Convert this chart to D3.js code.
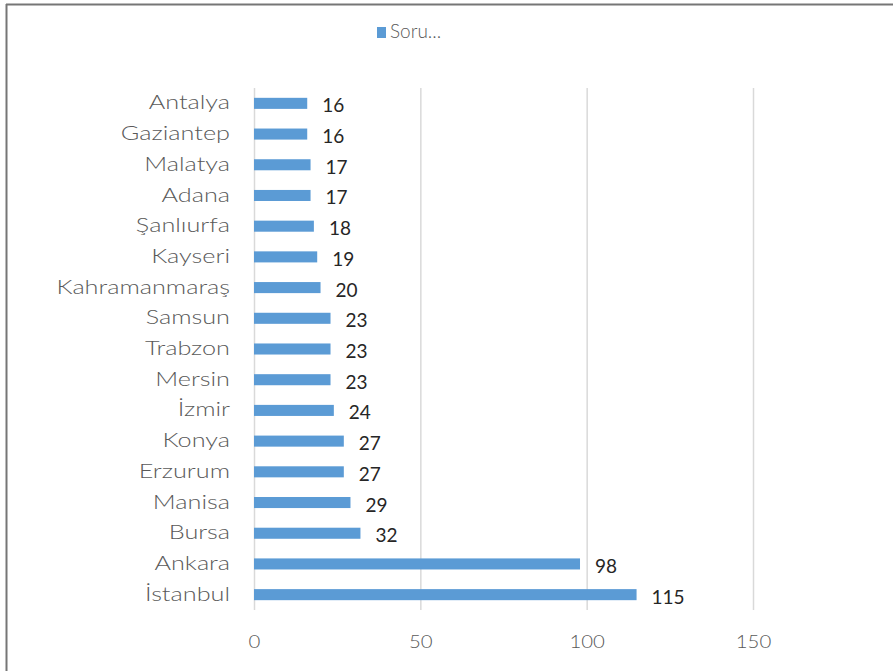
<!DOCTYPE html>
<html>
<head>
<meta charset="utf-8">
<script src="https://cdn.jsdelivr.net/npm/d3@7"></script>
<style>
  body { margin: 0; background: #fff; }
  svg { display: block; font-family: Lato, "Open Sans", sans-serif; }
</style>
</head>
<body>
<svg></svg>
<script>
// city names, top to bottom
const cities = ["Antalya", "Gaziantep", "Malatya", "Adana", "Şanlıurfa", "Kayseri",
    "Kahramanmaraş", "Samsun", "Trabzon", "Mersin", "İzmir", "Konya", "Erzurum",
    "Manisa", "Bursa", "Ankara", "İstanbul"];
const counts = [16, 16, 17, 17, 18, 19, 20, 23, 23, 23, 24, 27, 27, 29, 32, 98, 115];
const xTicks = [0, 50, 100, 150];
const seriesName = "Soru...";

const width = 893;
const height = 671;
const marginTop = 88;
const marginLeft = 254;
const marginBottom = 61;
const barColor = "#5b9bd5";
const stretch = 1.33; // the source text is drawn a bit wide

const svg = d3.select("svg").attr("width", width).attr("height", height);

// frame (top and left edge only)
svg.append("line").attr("x1", 6).attr("x2", width).attr("y1", 4.5).attr("y2", 4.5)
    .attr("stroke", "#767676").attr("stroke-width", 2);
svg.append("line").attr("x1", 6.5).attr("x2", 6.5).attr("y1", 4).attr("y2", height)
    .attr("stroke", "#767676").attr("stroke-width", 2);

const x = d3.scaleLinear()
    .domain([0, 150])
    .range([marginLeft, 753]);

const y = d3.scaleBand()
    .domain(cities)
    .range([marginTop, height - marginBottom])
    .paddingInner(0.64)
    .paddingOuter(0.32);

// grid lines
svg.append("g")
    .selectAll("line")
    .data(xTicks)
    .join("line")
    .attr("x1", d => x(d) + 0.5)
    .attr("x2", d => x(d) + 0.5)
    .attr("y1", marginTop)
    .attr("y2", height - marginBottom)
    .attr("stroke", "#d9d9d9")
    .attr("stroke-width", 1.5);

// x tick labels
const xAxis = svg.append("g")
    .attr("transform", `translate(0,${height - marginBottom})`)
    .call(d3.axisBottom(x).tickValues(xTicks).tickSize(0).tickPadding(26));
xAxis.select(".domain").remove();
xAxis.selectAll("text")
    .attr("font-size", 17)
    .attr("font-family", "Lato, sans-serif")
    .attr("font-weight", 300)
    .attr("fill", "#595959")
    .attr("transform", "scale(1.2,1)");

// category labels
const yAxis = svg.append("g")
    .attr("transform", `translate(${marginLeft},0)`)
    .call(d3.axisLeft(y).tickSize(0).tickPadding(24));
yAxis.select(".domain").remove();
yAxis.selectAll("text")
    .attr("x", -24 / stretch)
    .attr("font-size", 19)
    .attr("font-family", "Lato, sans-serif")
    .attr("font-weight", 300)
    .attr("fill", "#595959")
    .attr("transform", `scale(${stretch},1)`);

// bars
svg.append("g")
    .selectAll("rect")
    .data(cities)
    .join("rect")
    .attr("x", x(0))
    .attr("y", d => y(d))
    .attr("width", (d, i) => x(counts[i]) - x(0))
    .attr("height", y.bandwidth())
    .attr("fill", barColor);

// value labels
svg.append("g")
    .selectAll("text")
    .data(cities)
    .join("text")
    .attr("x", (d, i) => x(counts[i]) + 15)
    .attr("y", d => y(d) + y.bandwidth() / 2 + 9)
    .attr("font-size", 19)
    .attr("fill", "#262626")
    .text((d, i) => counts[i]);

// legend
const legend = svg.append("g").attr("transform", "translate(377,27)");
legend.append("rect").attr("width", 9).attr("height", 11).attr("fill", barColor);
legend.append("text").attr("x", 13).attr("y", 11)
    .attr("font-size", 19).attr("font-weight", 300).attr("fill", "#595959").text(seriesName);
</script>
</body>
</html>
